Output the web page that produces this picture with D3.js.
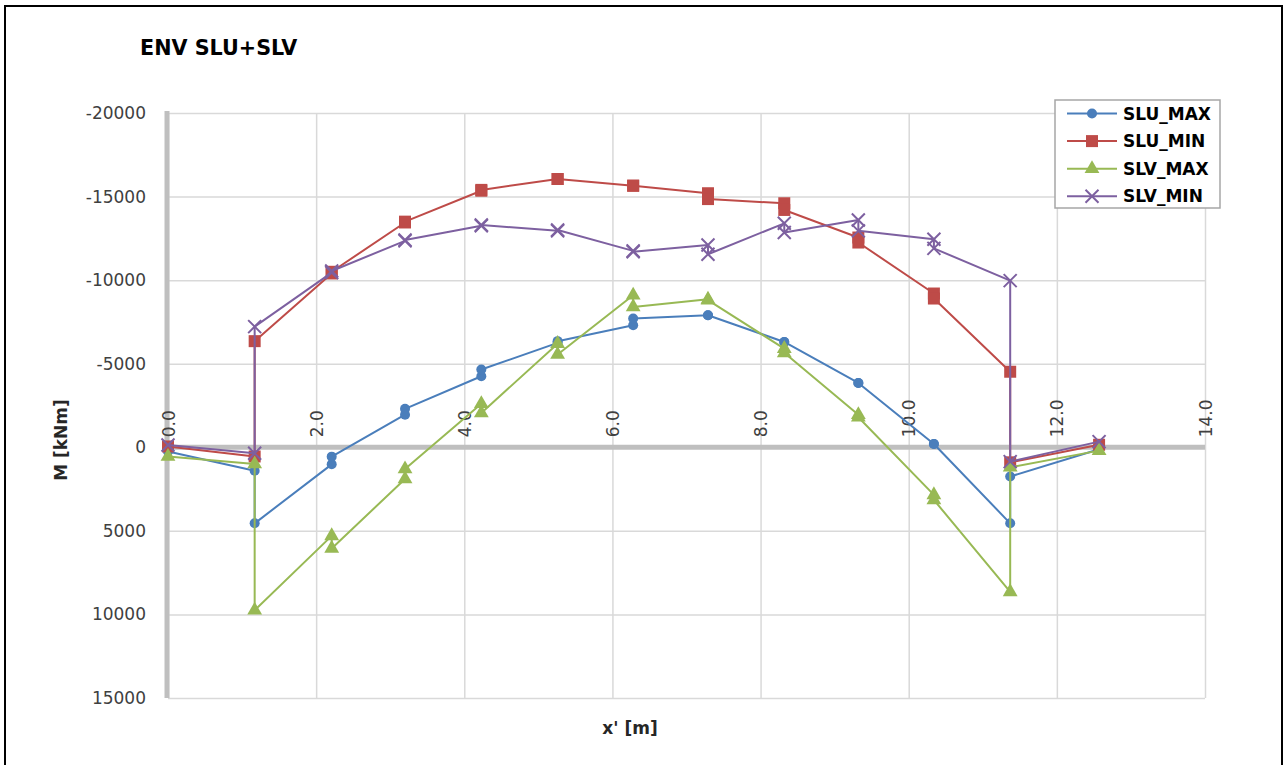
<!DOCTYPE html>
<html><head><meta charset="utf-8">
<script src="https://cdn.jsdelivr.net/npm/d3@7"></script>
<style>body{margin:0;background:#fff;overflow:hidden}</style>
</head><body><svg id="c" width="1287" height="765"></svg>
<script>
// ---- data ----
const xPos   = [0, 1.17, 1.17, 2.21, 2.21, 3.20, 3.20, 4.23, 4.23, 5.26, 5.26, 6.28, 6.28, 7.29, 7.29, 8.32, 8.32, 9.32, 9.32, 10.34, 10.34, 11.37, 11.37, 12.57];
const sluMax = [250, 1400, 4550, 1020, 560, -1950, -2300, -4250, -4650, -6250, -6350, -7300, -7700, -7900, -7900, -6300, -6300, -3850, -3850, -200, -200, 4550, 1750, 120];
const sluMin = [-50, 550, -6350, -10400, -10500, -13450, -13500, -15350, -15400, -16050, -16050, -15650, -15650, -15200, -14850, -14600, -14200, -12550, -12250, -9200, -8900, -4520, 900, -150];
const slvMax = [550, 1000, 9750, 5300, 6050, 1900, 1300, -2600, -2050, -6200, -5550, -9100, -8400, -8850, -8800, -5900, -5650, -1950, -1800, 2850, 3150, 8650, 1200, 200];
const slvMin = [-140, 360, -7220, -10450, -10550, -12350, -12400, -13250, -13300, -12950, -13000, -11750, -11700, -12100, -11550, -13400, -12850, -13600, -12950, -12450, -11900, -9970, 860, -340];
const seriesNames  = ["SLU_MAX", "SLU_MIN", "SLV_MAX", "SLV_MIN"];
const seriesValues = [sluMax, sluMin, slvMax, slvMin];
const seriesColors = ["#4A7EBB", "#BE4B48", "#98B954", "#7D60A0"];
const seriesMarkers = ["circle", "square", "triangle", "x"];
const xTicks = [0, 2, 4, 6, 8, 10, 12, 14];
const yTicks = [-20000, -15000, -10000, -5000, 0, 5000, 10000, 15000];
const chartTitle = "ENV SLU+SLV";
const xTitle = "x' [m]";
const yTitle = "M [kNm]";

// ---- layout ----
const L = 168, R = 1205, T = 113, B = 698;
const svg = d3.select("#c");
const FONT = "'DejaVu Sans', sans-serif";

svg.append("rect").attr("x", 5).attr("y", 6).attr("width", 1277).attr("height", 780)
  .attr("fill", "#fff").attr("stroke", "#000").attr("stroke-width", 2);

const x = d3.scaleLinear().domain([0, 14]).range([L, R]);
const y = d3.scaleLinear().domain([-20000, 15000]).range([T, B]);

// horizontal gridlines + y labels
const gy = svg.append("g").attr("transform", `translate(${L},0)`)
  .call(d3.axisLeft(y).tickValues(yTicks).tickSize(-(R - L)).tickPadding(22).tickFormat(d => String(d)));
gy.select(".domain").remove();
gy.selectAll("line").attr("stroke", "#d9d9d9").attr("stroke-width", 1.5);
gy.selectAll("text").attr("font-family", FONT).attr("font-size", 17).attr("fill", "#404040");

// vertical gridlines
const gx = svg.append("g").attr("transform", `translate(0,${B})`)
  .call(d3.axisBottom(x).tickValues(xTicks).tickSize(-(B - T)).tickFormat(""));
gx.select(".domain").remove();
gx.selectAll("line").attr("stroke", "#d9d9d9").attr("stroke-width", 1.5);

// axis lines (thick gray)
svg.append("line").attr("x1", L).attr("x2", R).attr("y1", y(0)).attr("y2", y(0))
  .attr("stroke", "#bfbfbf").attr("stroke-width", 5);
svg.append("line").attr("x1", L - 1).attr("x2", L - 1).attr("y1", T - 2).attr("y2", B)
  .attr("stroke", "#bfbfbf").attr("stroke-width", 5);

// x tick labels (rotated, above zero line)
const gxl = svg.append("g").attr("transform", `translate(0,${y(0)})`)
  .call(d3.axisTop(x).tickValues(xTicks).tickSize(0).tickFormat(d3.format(".1f")));
gxl.select(".domain").remove();
gxl.selectAll("text").attr("transform", "rotate(-90)").attr("x", 10).attr("y", 0)
  .attr("dy", "0.36em").attr("text-anchor", "start")
  .attr("font-family", FONT).attr("font-size", 17).attr("fill", "#404040");

// markers
function drawMarker(g, type, color, cx, cy) {
  if (type === "circle") {
    g.append("circle").attr("cx", cx).attr("cy", cy).attr("r", 5).attr("fill", color);
  } else if (type === "square") {
    g.append("path").attr("d", d3.symbol(d3.symbolSquare, 144)()).attr("transform", `translate(${cx},${cy})`).attr("fill", color);
  } else if (type === "triangle") {
    g.append("path").attr("d", d3.symbol(d3.symbolTriangle, 95)()).attr("transform", `translate(${cx},${cy})`).attr("fill", color);
  } else {
    g.append("path").attr("d", "M-6.5,-6.5L6.5,6.5M-6.5,6.5L6.5,-6.5").attr("transform", `translate(${cx},${cy})`)
      .attr("stroke", color).attr("stroke-width", 2).attr("fill", "none");
  }
}

// series
const line = d3.line().x((d, i) => x(xPos[i])).y(d => y(d));
seriesValues.forEach((vals, s) => {
  const g = svg.append("g");
  g.append("path").attr("d", line(vals)).attr("fill", "none")
    .attr("stroke", seriesColors[s]).attr("stroke-width", 2).attr("stroke-linejoin", "round");
  vals.forEach((v, i) => drawMarker(g, seriesMarkers[s], seriesColors[s], x(xPos[i]), y(v)));
});

// legend
const lg = svg.append("g");
lg.append("rect").attr("x", 1055).attr("y", 100).attr("width", 165).attr("height", 108)
  .attr("fill", "#fff").attr("stroke", "#a6a6a6").attr("stroke-width", 1.5);
seriesNames.forEach((n, s) => {
  const yy = 113.5 + s * 27.6;
  lg.append("line").attr("x1", 1067).attr("x2", 1117).attr("y1", yy).attr("y2", yy)
    .attr("stroke", seriesColors[s]).attr("stroke-width", 2);
  drawMarker(lg, seriesMarkers[s], seriesColors[s], 1092, yy);
  lg.append("text").attr("x", 1123).attr("y", yy).attr("dy", "0.36em")
    .attr("font-family", FONT).attr("font-weight", "bold").attr("font-size", 17).attr("fill", "#000").text(n);
});

// titles
svg.append("text").attr("x", 140).attr("y", 55).attr("font-family", FONT).attr("font-weight", "bold")
  .attr("font-size", 20.7).attr("fill", "#000").text(chartTitle);
svg.append("text").attr("transform", "translate(67,440) rotate(-90)").attr("text-anchor", "middle")
  .attr("font-family", FONT).attr("font-weight", "bold").attr("font-size", 17).attr("fill", "#262626").text(yTitle);
svg.append("text").attr("x", 630).attr("y", 734).attr("text-anchor", "middle")
  .attr("font-family", FONT).attr("font-weight", "bold").attr("font-size", 17).attr("fill", "#262626").text(xTitle);
</script></body></html>
